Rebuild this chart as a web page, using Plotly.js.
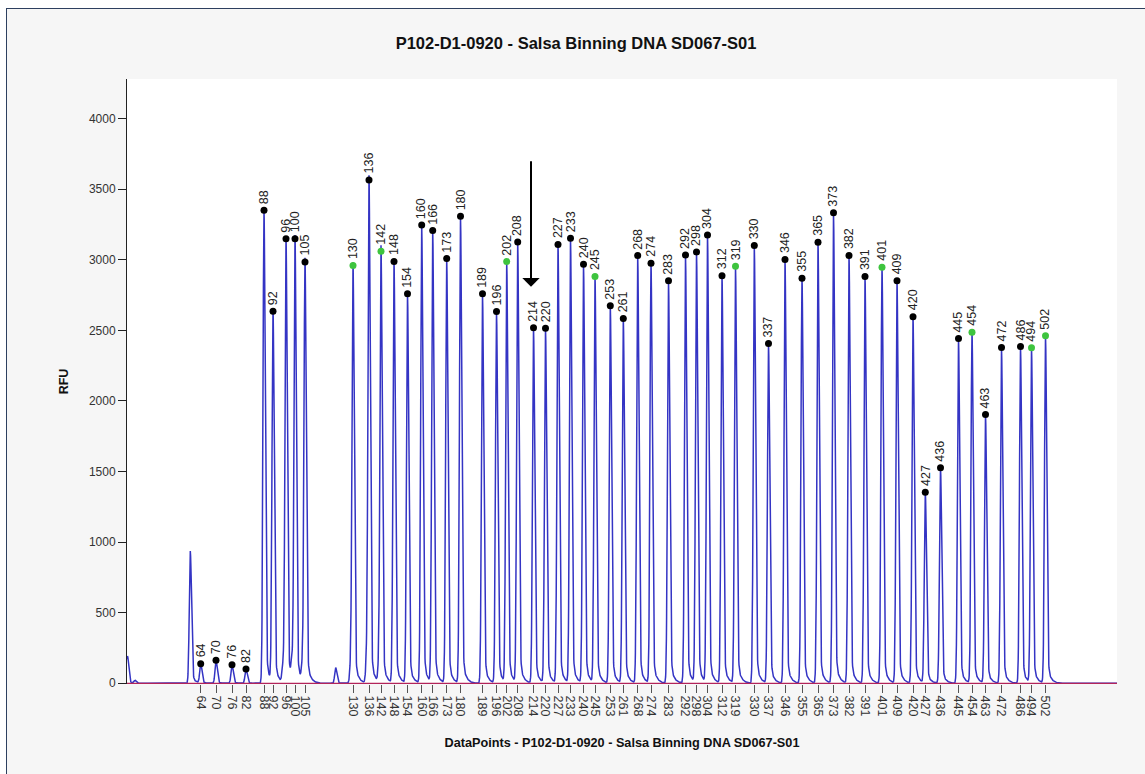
<!DOCTYPE html>
<html>
<head>
<meta charset="utf-8">
<script src="https://cdn.plot.ly/plotly-3.0.1.min.js"></script>
<style>
  html, body { margin: 0; padding: 0; background: #ffffff; width: 1145px; height: 774px; overflow: hidden; }
  #frame { position: absolute; left: 6px; top: 8px; width: 1150px; height: 780px;
           border-left: 1px solid #2d3f5f; border-top: 1px solid #2d3f5f; background: #f6f6f6; }
  #chart { position: absolute; left: 0; top: 0; width: 1138px; height: 765px; }
</style>
</head>
<body>
<div id="frame"><div id="chart"></div></div>
<script>
// ---- Data (x in data points, y in RFU) ----
const peakSizes = [64, 70, 76, 82, 88, 92, 96, 100, 105, 130, 136, 142, 148, 154, 160, 166, 173, 180,
  189, 196, 202, 208, 214, 220, 227, 233, 240, 245, 253, 261, 268, 274, 283, 292, 298, 304, 312, 319,
  330, 337, 346, 355, 365, 373, 382, 391, 401, 409, 420, 427, 436, 445, 454, 463, 472, 486, 494, 502];
const peakDataPoints = [737, 890, 1050, 1190, 1370, 1460, 1590, 1680, 1780, 2260, 2420, 2540, 2670, 2805,
  2947, 3057, 3197, 3335, 3555, 3695, 3797, 3907, 4065, 4185, 4310, 4435, 4565, 4680, 4833, 4963, 5107,
  5240, 5415, 5585, 5695, 5805, 5950, 6085, 6273, 6415, 6580, 6750, 6910, 7065, 7220, 7380, 7550, 7700,
  7860, 7983, 8135, 8315, 8450, 8585, 8745, 8935, 9045, 9185];
const peakRFU = [139, 163, 132, 101, 3351, 2636, 3150, 3150, 2985, 2959, 3566, 3061, 2988, 2759, 3247,
  3207, 3009, 3308, 2759, 2634, 2988, 3127, 2518, 2516, 3108, 3153, 2969, 2881, 2674, 2584, 3030, 2976,
  2851, 3035, 3056, 3176, 2888, 2954, 3101, 2407, 3002, 2870, 3124, 3334, 3030, 2881, 2948, 2851, 2597,
  1354, 1527, 2442, 2487, 1904, 2379, 2386, 2377, 2462];
const greenSizes = [130, 142, 202, 245, 319, 401, 454, 494, 502];
// unlabelled peaks (primer peak, artefacts, shoulders)
const extraDataPoints = [5, 80, 633, 1560, 1650, 1755, 2087, 2237, 2397, 2520];
const extraRFU = [193, 20, 937, 122, 131, 122, 111, 122, 165, 127];
const yTickValues = [0, 500, 1000, 1500, 2000, 2500, 3000, 3500, 4000];
const dataPointRange = [0, 9900];
const titleText = 'P102-D1-0920 - Salsa Binning DNA SD067-S01';
const xTitleText = 'DataPoints - P102-D1-0920 - Salsa Binning DNA SD067-S01';

// ---- Build the electropherogram trace from the peak table ----
const allPos = peakDataPoints.concat(extraDataPoints);
const allH = peakRFU.concat(extraRFU);
function peakShape(d, h) {
  if (d < 0) return h * Math.exp(-0.5 * (d / 10) * (d / 10));
  return h * (0.9 * Math.exp(-0.5 * (d / 12) * (d / 12)) + 0.1 * Math.exp(-d / 30));
}
let grid = [];
for (let x = dataPointRange[0]; x <= dataPointRange[1]; x += 2) grid.push(x);
grid = Array.from(new Set(grid.concat(allPos))).sort((a, b) => a - b);
const signal = grid.map(x => {
  let s = 0;
  for (let i = 0; i < allPos.length; i++) {
    const d = x - allPos[i];
    if (d > -80 && d < 300) s += peakShape(d, allH[i]);
  }
  return s;
});

const font = 'Arial, "Liberation Sans", sans-serif';

const traces = [
  { x: grid, y: signal, type: 'scatter', mode: 'lines',
    line: { color: '#3434c4', width: 1.5 }, hoverinfo: 'skip' },
  { x: dataPointRange, y: [0, 0], type: 'scatter', mode: 'lines',
    line: { color: '#b3245a', width: 1.3 }, hoverinfo: 'skip' },
  { x: peakDataPoints, y: peakRFU, type: 'scatter', mode: 'markers', cliponaxis: false,
    marker: { size: 7, color: peakSizes.map(s => greenSizes.includes(s) ? '#3ec43e' : '#000000') },
    hoverinfo: 'skip' }
];

const annotations = peakSizes.map((s, i) => ({
  x: peakDataPoints[i], y: peakRFU[i], xref: 'x', yref: 'y',
  text: String(s), showarrow: false, textangle: -90,
  xanchor: 'center', yanchor: 'bottom', yshift: 4,
  font: { family: font, size: 12.5, color: '#222222' }
}));
annotations.push({
  x: 4040, y: 2810, xref: 'x', yref: 'y', text: '', showarrow: true,
  ax: 0, ay: -127, arrowhead: 1, arrowsize: 1.45, arrowwidth: 2, arrowcolor: '#000000'
});

const layout = {
  width: 1138, height: 765,
  paper_bgcolor: 'rgba(0,0,0,0)', plot_bgcolor: '#ffffff',
  margin: { l: 120, r: 28, t: 70, b: 89.5 },
  showlegend: false,
  font: { family: font, size: 12, color: '#333333' },
  title: { text: '<b>' + titleText + '</b>', x: 0.5, xref: 'container', xanchor: 'center',
           y: 1 - 34 / 765, yref: 'container', yanchor: 'middle',
           font: { family: font, size: 16.5, color: '#111111' } },
  xaxis: {
    range: dataPointRange, fixedrange: true,
    tickmode: 'array', tickvals: peakDataPoints, ticktext: peakSizes.map(String),
    tickangle: 90, ticks: 'outside', ticklen: 8, tickcolor: '#555555', tickwidth: 1,
    showgrid: false, zeroline: false, showline: false,
    tickfont: { family: font, size: 12.5, color: '#333333' },
    title: { text: '<b>' + xTitleText + '</b>', standoff: 22,
             font: { family: font, size: 12.7, color: '#111111' } }
  },
  yaxis: {
    range: [-5, 4281], fixedrange: true,
    tickmode: 'array', tickvals: yTickValues, ticktext: yTickValues.map(String),
    ticks: 'outside', ticklen: 8, tickcolor: '#222222', tickwidth: 1,
    showline: true, linecolor: '#222222', linewidth: 1,
    showgrid: false, zeroline: false,
    tickfont: { family: font, size: 12, color: '#333333' },
    title: { text: '<b>RFU</b>', standoff: 17,
             font: { family: font, size: 12.5, color: '#111111' } }
  },
  annotations: annotations
};

Plotly.newPlot('chart', traces, layout, { displayModeBar: false, staticPlot: true });
</script>
</body>
</html>
